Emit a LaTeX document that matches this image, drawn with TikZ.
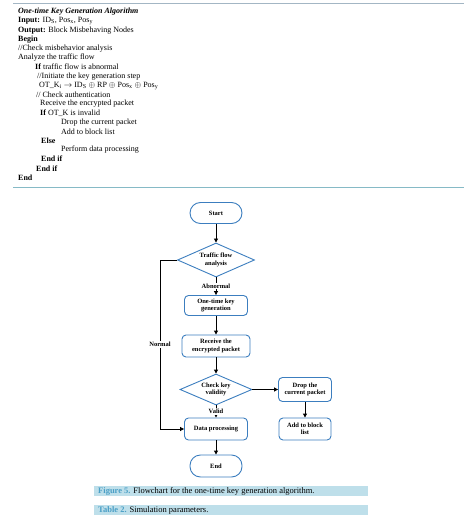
\documentclass[tikz,border=0pt]{standalone}
\usepackage{fontspec}
\setmainfont{Liberation Serif}
\usetikzlibrary{arrows.meta,shapes.geometric}

\definecolor{boxblue}{HTML}{3C7EBF}
\definecolor{rulegray}{HTML}{A3B6C4}
\definecolor{ruleteal}{HTML}{86BAC6}
\definecolor{capband}{HTML}{BEDFEA}
\definecolor{capblue}{HTML}{4A9FC6}

\begin{document}
\begin{tikzpicture}[x=1pt,y=-1pt,
  algline/.style={anchor=west,inner sep=0pt,font=\fontsize{8}{9}\selectfont},
  procbox/.style={draw=boxblue,line width=0.9pt,rounded corners=4pt,fill=white,align=center,
    font=\fontsize{6.5}{7.5}\selectfont\bfseries,inner sep=1pt},
  termbox/.style={procbox,rounded corners=10.5pt},
  decision/.style={diamond,aspect=2.2,draw=boxblue,line width=0.9pt,fill=white,align=center,
    font=\fontsize{6.5}{7.5}\selectfont\bfseries,inner sep=0pt},
  flow/.style={-{Triangle[length=4pt,width=4pt]},line width=0.9pt},
  edgelabel/.style={fill=white,inner sep=0.8pt,font=\fontsize{6.5}{7.5}\selectfont\bfseries},
  caption/.style={anchor=west,inner sep=0pt,font=\fontsize{8.5}{10}\selectfont}]

\useasboundingbox (0,0) rectangle (464,518);

% Algorithm box rules
\coordinate (ruletopL) at (13,3);
\coordinate (ruletopR) at (464,3);
\coordinate (rulebotL) at (13,187);
\coordinate (rulebotR) at (464,187);
\draw[rulegray,line width=0.8pt] (ruletopL)--(ruletopR);
\draw[ruleteal,line width=0.8pt] (rulebotL)--(rulebotR);

% Algorithm listing
\node[algline] (alg0) at (18,12.0) {\textbf{\textit{One-time Key Generation Algorithm}}};
\node[algline] (alg1) at (18,21.2) {\textbf{Input:} ID\textsubscript{S}, Pos\textsubscript{x}, Pos\textsubscript{y}};
\node[algline] (alg2) at (18,30.4) {\textbf{Output:} Block Misbehaving Nodes};
\node[algline] (alg3) at (18,39.6) {\textbf{Begin}};
\node[algline] (alg4) at (18,48.8) {//Check misbehavior analysis};
\node[algline] (alg5) at (18,58.0) {Analyze the traffic flow};
\node[algline] (alg6) at (35,67.2) {\textbf{If} traffic flow is abnormal};
\node[algline] (alg7) at (37,76.4) {//Initiate the key generation step};
\node[algline] (alg8) at (39,85.6) {OT\_K\textsubscript{i} $\rightarrow$ ID\textsubscript{S} $\oplus$ RP $\oplus$ Pos\textsubscript{x} $\oplus$ Pos\textsubscript{y}};
\node[algline] (alg9) at (36,94.8) {// Check authentication};
\node[algline] (alg10) at (40,104.0) {Receive the encrypted packet};
\node[algline] (alg11) at (40,113.2) {\textbf{If} OT\_K is invalid};
\node[algline] (alg12) at (61,122.4) {Drop the current packet};
\node[algline] (alg13) at (61,131.6) {Add to block list};
\node[algline] (alg14) at (41,140.8) {\textbf{Else}};
\node[algline] (alg15) at (61,150.0) {Perform data processing};
\node[algline] (alg16) at (41,159.2) {\textbf{End if}};
\node[algline] (alg17) at (36,168.4) {\textbf{End if}};
\node[algline] (alg18) at (18,177.6) {\textbf{End}};

% Flowchart
\node[termbox,minimum width=52pt,minimum height=21pt] (start) at (216,213) {Start};
\node[decision,minimum width=77pt,minimum height=34pt] (traffic) at (216,260) {Traffic flow\\analysis};
\node[procbox,minimum width=63pt,minimum height=20pt] (onetime) at (216,305.5) {One-time key\\generation};
\node[procbox,minimum width=68pt,minimum height=22pt] (receive) at (216,346) {Receive the\\encrypted packet};
\node[decision,minimum width=72pt,minimum height=31pt] (check) at (216,389.5) {Check key\\validity};
\node[procbox,minimum width=63pt,minimum height=22pt] (dataproc) at (216,429) {Data processing};
\node[termbox,minimum width=52pt,minimum height=22pt] (end) at (216,466) {End};
\node[procbox,minimum width=53pt,minimum height=24pt] (drop) at (305,389.5) {Drop the\\current packet};
\node[procbox,minimum width=52pt,minimum height=22pt] (addblock) at (305,429) {Add to block\\list};

% Normal branch runs down the left side
\coordinate (normx) at (160,0);

\draw[flow] (start)--(traffic);
\draw[flow] (traffic.south)-- node[edgelabel] {Abnormal} (onetime.north);
\draw[flow] (onetime)--(receive);
\draw[flow] (receive)--(check);
\draw[flow] (check.south)-- node[edgelabel] {Valid} (dataproc.north);
\draw[flow] (check.east)--(drop.west);
\draw[flow] (drop)--(addblock);
\draw[flow] (dataproc)--(end);
\draw[flow] (traffic.west)--(traffic.west -| normx)
  -- node[edgelabel] {Normal} (dataproc.west -| normx)--(dataproc.west);

% Captions
\coordinate (figbandA) at (94,486);
\coordinate (figbandB) at (368,496);
\coordinate (tabbandA) at (94,505);
\coordinate (tabbandB) at (368,515);
\fill[capband] (figbandA) rectangle (figbandB);
\fill[capband] (tabbandA) rectangle (tabbandB);
\node[caption] (figcap) at (98,491) {\textcolor{capblue}{\textbf{Figure 5.}} Flowchart for the one-time key generation algorithm.};
\node[caption] (tabcap) at (98,510) {\textcolor{capblue}{\textbf{Table 2.}} Simulation parameters.};

\end{tikzpicture}
\end{document}
